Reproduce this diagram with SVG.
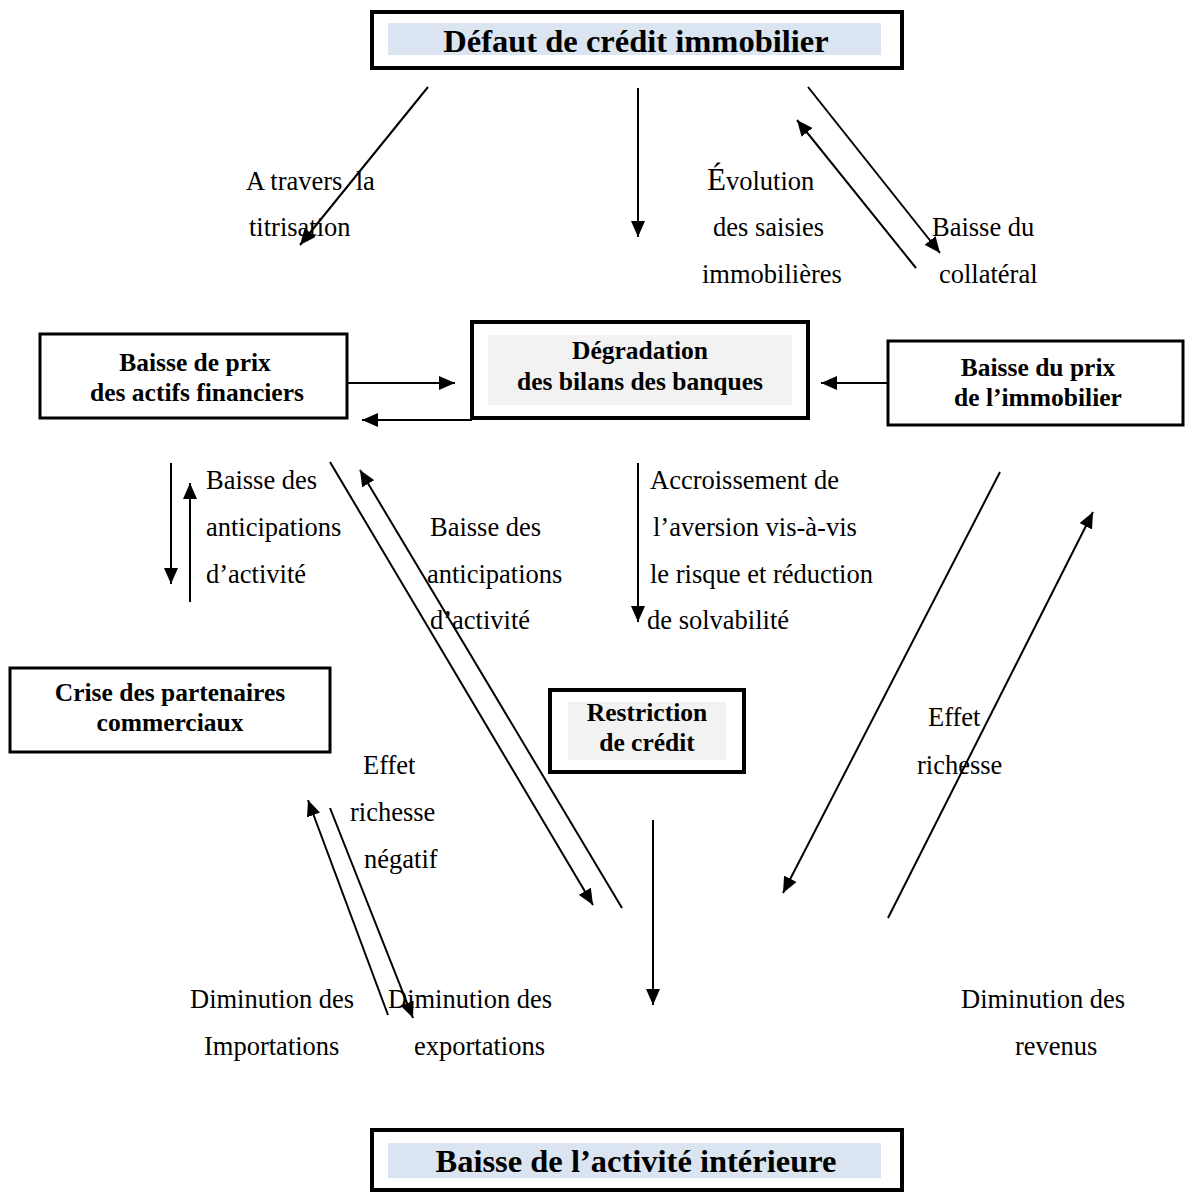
<svg xmlns="http://www.w3.org/2000/svg" width="1185" height="1192" viewBox="0 0 1185 1192">
<defs>
<marker id="ah" markerUnits="userSpaceOnUse" markerWidth="16" markerHeight="14" refX="16" refY="7" orient="auto">
<path d="M0,0 L16,7 L0,14 z" fill="#000"/>
</marker>
<style>
.box{fill:#fff;stroke:#000;stroke-width:3}
.tbox{fill:#fff;stroke:#000;stroke-width:4}
.bt{font-family:"Liberation Serif","Times New Roman",serif;font-weight:bold;font-size:25.5px;text-anchor:middle;fill:#000}
.tt{font-family:"Liberation Serif","Times New Roman",serif;font-weight:bold;font-size:32.5px;text-anchor:middle;fill:#000}
.lb{font-family:"Liberation Serif","Times New Roman",serif;font-size:26.5px;fill:#000;white-space:pre}
.cn{stroke:#000;stroke-width:2;fill:none}
.ca{stroke:#000;stroke-width:2;fill:none;marker-end:url(#ah)}
</style>
</defs>
<rect width="1185" height="1192" fill="#fff"/>

<g id="defaut">
<rect class="tbox" x="372" y="12" width="530" height="56"/>
<rect x="388" y="23" width="493" height="32" fill="#dbe5f1"/>
<text class="tt" x="636" y="52">Défaut de crédit immobilier</text>
</g>

<g id="baisse-prix-actifs">
<rect class="box" x="40" y="334" width="307" height="84"/>
<text class="bt" x="195" y="371">Baisse de prix</text>
<text class="bt" x="197" y="401">des actifs financiers</text>
</g>

<g id="degradation">
<rect class="tbox" x="472" y="322" width="336" height="96"/>
<rect x="488" y="335" width="304" height="70" fill="#f2f2f2"/>
<text class="bt" x="640" y="359">Dégradation</text>
<text class="bt" x="640" y="390">des bilans des banques</text>
</g>

<g id="baisse-prix-immobilier">
<rect class="box" x="888" y="341" width="295" height="84"/>
<text class="bt" x="1038" y="376">Baisse du prix</text>
<text class="bt" x="1038" y="406">de l’immobilier</text>
</g>

<g id="crise-partenaires">
<rect class="box" x="10" y="668" width="320" height="84"/>
<text class="bt" x="170" y="701">Crise des partenaires</text>
<text class="bt" x="170" y="731">commerciaux</text>
</g>

<g id="restriction">
<rect class="tbox" x="550" y="690" width="194" height="82"/>
<rect x="568" y="702" width="158" height="58" fill="#f2f2f2"/>
<text class="bt" x="647" y="721">Restriction</text>
<text class="bt" x="647" y="751">de crédit</text>
</g>

<g id="baisse-activite">
<rect class="tbox" x="372" y="1130" width="530" height="60"/>
<rect x="388" y="1143" width="493" height="35" fill="#dbe5f1"/>
<text class="tt" x="636" y="1172">Baisse de l’activité intérieure</text>
</g>

<g id="connectors">
<line class="ca" x1="428" y1="87" x2="300" y2="245"/>
<line class="ca" x1="638" y1="88" x2="638" y2="237"/>
<line class="ca" x1="808" y1="87" x2="940" y2="253"/>
<line class="ca" x1="916" y1="268" x2="797" y2="120"/>
<line class="ca" x1="347" y1="383" x2="455" y2="383"/>
<polyline class="ca" points="472,420 362,420"/>
<line class="ca" x1="888" y1="383" x2="821" y2="383"/>
<line class="ca" x1="171" y1="463" x2="171" y2="584"/>
<line class="ca" x1="190" y1="602" x2="190" y2="483"/>
<line class="ca" x1="330" y1="462" x2="593" y2="905"/>
<line class="ca" x1="622" y1="908" x2="360" y2="470"/>
<line class="ca" x1="638" y1="463" x2="638" y2="622"/>
<line class="ca" x1="1000" y1="472" x2="783" y2="893"/>
<line class="ca" x1="888" y1="918" x2="1093" y2="512"/>
<line class="ca" x1="653" y1="820" x2="653" y2="1005"/>
<line class="ca" x1="388" y1="1015" x2="308" y2="800"/>
<line class="ca" x1="330" y1="808" x2="413" y2="1018"/>
</g>

<g id="labels">
<text class="lb" x="246" y="190">A travers  la</text>
<text class="lb" x="249" y="236">titrisation</text>
<text class="lb" x="707" y="190"><tspan font-size="31">É</tspan>volution</text>
<text class="lb" x="713" y="236">des saisies</text>
<text class="lb" x="702" y="283">immobilières</text>
<text class="lb" x="932" y="236">Baisse du</text>
<text class="lb" x="939" y="283">collatéral</text>
<text class="lb" x="206" y="489">Baisse des</text>
<text class="lb" x="206" y="536">anticipations</text>
<text class="lb" x="206" y="583">d’activité</text>
<text class="lb" x="430" y="536">Baisse des</text>
<text class="lb" x="427" y="583">anticipations</text>
<text class="lb" x="430" y="629">d’activité</text>
<text class="lb" x="650" y="489">Accroissement de</text>
<text class="lb" x="653" y="536">l’aversion vis-à-vis</text>
<text class="lb" x="650" y="583">le risque et réduction</text>
<text class="lb" x="647" y="629">de solvabilité</text>
<text class="lb" x="928" y="726">Effet</text>
<text class="lb" x="917" y="774">richesse</text>
<text class="lb" x="363" y="774">Effet</text>
<text class="lb" x="350" y="821">richesse</text>
<text class="lb" x="364" y="868">négatif</text>
<text class="lb" x="190" y="1008">Diminution des</text>
<text class="lb" x="204" y="1055">Importations</text>
<text class="lb" x="388" y="1008">Diminution des</text>
<text class="lb" x="414" y="1055">exportations</text>
<text class="lb" x="961" y="1008">Diminution des</text>
<text class="lb" x="1015" y="1055">revenus</text>
</g>
</svg>
